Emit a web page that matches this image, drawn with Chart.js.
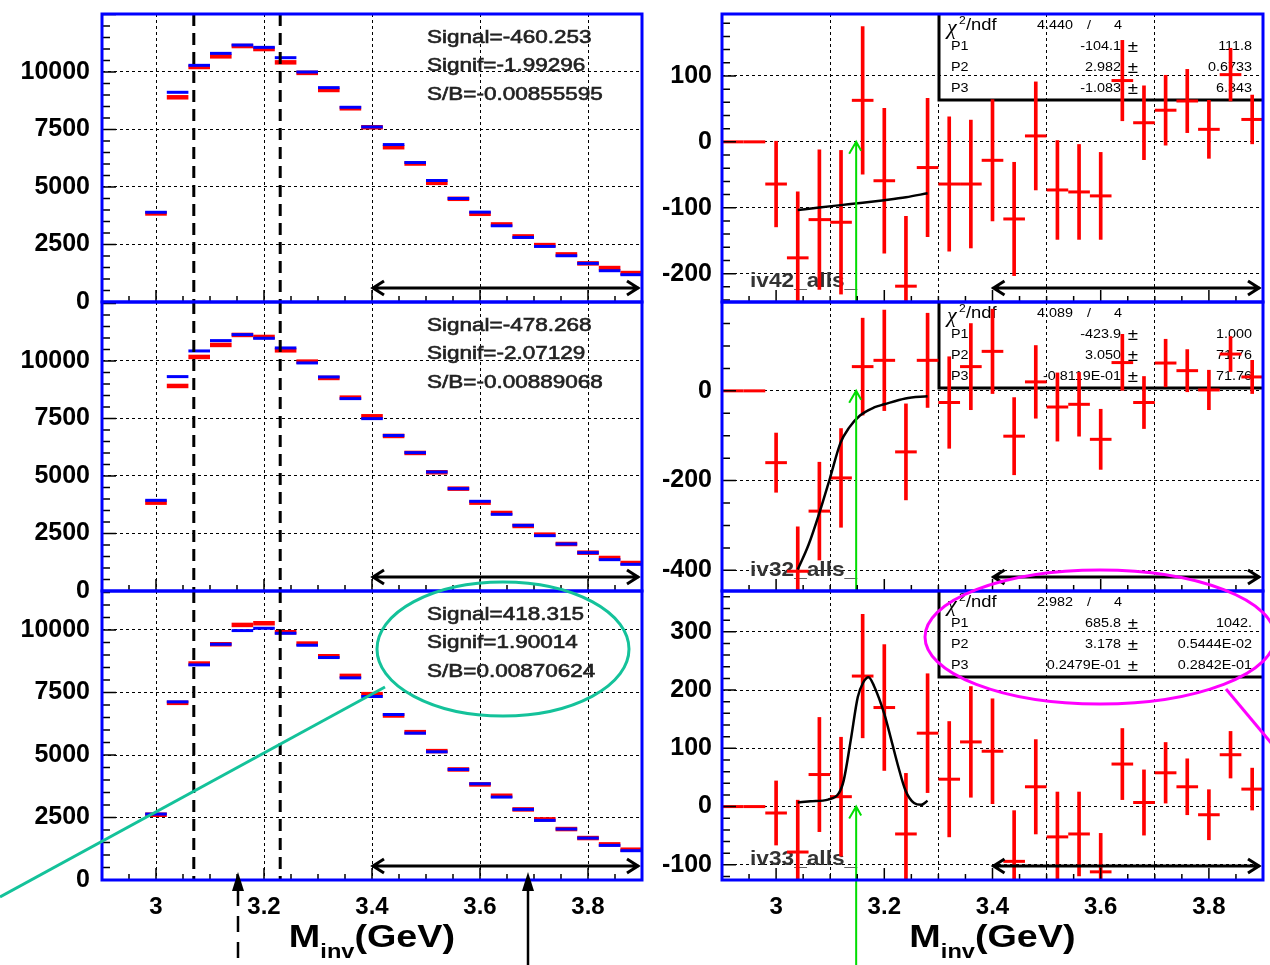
<!DOCTYPE html>
<html lang="en">
<head>
<meta charset="UTF-8">
<title>Minv signal fits</title>
<script src="https://cdn.jsdelivr.net/npm/chart.js"></script>
<style>
  body { margin:0; background:#fff; }
  #wrap { position:relative; width:1270px; height:965px; overflow:hidden; }
  #wrap canvas { position:absolute; }
</style>
</head>
<body>
<div id="wrap">
  <canvas id="histA" width="652" height="316" style="left:0;top:0"></canvas>
  <canvas id="histB" width="652" height="317" style="left:0;top:288px"></canvas>
  <canvas id="histC" width="652" height="405" style="left:0;top:560px"></canvas>
  <canvas id="fitA" width="620" height="316" style="left:650px;top:0"></canvas>
  <canvas id="fitB" width="620" height="317" style="left:650px;top:288px"></canvas>
  <canvas id="fitC" width="620" height="405" style="left:650px;top:560px"></canvas>
</div>

<script>
// bin centres (GeV)
const bins = [3.00, 3.04, 3.08, 3.12, 3.16, 3.20, 3.24, 3.28, 3.32, 3.36, 3.40, 3.44,
              3.48, 3.52, 3.56, 3.60, 3.64, 3.68, 3.72, 3.76, 3.80, 3.84, 3.88];
const fitBins = [2.92, 2.96, 3.00, 3.04, 3.08, 3.12, 3.16, 3.20, 3.24, 3.28, 3.32, 3.36, 3.40,
                 3.44, 3.48, 3.52, 3.56, 3.60, 3.64, 3.68, 3.72, 3.76, 3.80, 3.84, 3.88];
const binWidth = 0.04;
const xTicks = [3.0, 3.2, 3.4, 3.6, 3.8];

// left column: two distributions per panel
const blueA = [3900, 9116, 10288, 10809, 11171, 11070, 10621, 9999, 9319, 8465, 7611, 6844,
               6063, 5282, 4500, 3907, 3314, 2807, 2416, 2011, 1679, 1360, 1187];
const redA  = [3850, 8899, 10216, 10679, 11127, 10997, 10418, 9960, 9217, 8421, 7597, 6729,
               6020, 5180, 4486, 3835, 3372, 2851, 2474, 2069, 1679, 1476, 1259];
const blueB = [3941, 9317, 10433, 10882, 11143, 10983, 10563, 9911, 9303, 8361, 7491, 6760,
               6013, 5173, 4448, 3898, 3333, 2855, 2405, 2043, 1666, 1362, 1159];
const redB  = [3840, 8911, 10172, 10694, 11128, 11041, 10460, 9969, 9259, 8404, 7593, 6738,
               6000, 5160, 4448, 3840, 3391, 2826, 2449, 2043, 1666, 1435, 1217];
const blueC = [2637, 7126, 8605, 9430, 9977, 10070, 9870, 9390, 8898, 8085, 7339, 6620,
               5874, 5128, 4422, 3849, 3317, 2824, 2384, 2038, 1678, 1385, 1172];
const redC  = [2611, 7086, 8658, 9430, 10203, 10270, 9910, 9457, 8951, 8165, 7433, 6580,
               5914, 5155, 4422, 3823, 3370, 2824, 2424, 2038, 1678, 1425, 1212];

const sigTextA = ['Signal=-460.253', 'Signif=-1.99296', 'S/B=-0.00855595'];
const sigTextB = ['Signal=-478.268', 'Signif=-2.07129', 'S/B=-0.00889068'];
const sigTextC = ['Signal=418.315', 'Signif=1.90014', 'S/B=0.00870624'];

// right column: subtracted spectra with errors
const diffA = [0, 0, -64, -176, -118, -122, 63, -59, -219, -39, -64, -64, -28, -117,
               9, -73, -76, -82, 93, 29, 48, 62, 19, 102, 34];
const errA  = [0, 0, 65, 100, 106, 109, 112, 110, 106, 105, 102, 97, 92, 86,
               82, 75, 72, 66, 61, 56, 53, 48, 44, 40, 37];
const diffB = [0, 0, -160, -402, -268, -194, 54, 68, -136, 68, -26, 54, 88, -101,
               20, -36, -30, -108, 63, -26, 62, 45, 2, 82, 31];
const errB  = [0, 0, 66, 99, 109, 110, 108, 112, 107, 105, 102, 96, 94, 86,
               81, 76, 71, 67, 63, 58, 53, 47, 44, 39, 37];
const diffC = [0, 0, -11, -78, 55, 17, 224, 170, -47, 126, 47, 111, 95, -94,
               34, -52, -47, -112, 73, 7, 58, 34, -14, 89, 30];
const errC  = [0, 0, 55, 89, 98, 102, 106, 108, 104, 102, 99, 95, 90, 87,
               81, 77, 72, 66, 61, 56, 52, 48, 43, 40, 36];

// fit curves
const curveAx = [3.04, 3.08, 3.12, 3.16, 3.20, 3.24, 3.28];
const curveAy = [-103.5, -99.5, -96, -92.5, -88.5, -84, -78];
const curveBx = [3.040, 3.060, 3.080, 3.099, 3.119, 3.135, 3.155, 3.181, 3.200, 3.239, 3.280];
const curveBy = [-398, -343, -272, -197, -116, -82, -55, -37, -30, -17, -12];
const curveCx = [3.040, 3.064, 3.096, 3.116, 3.125, 3.138, 3.151, 3.161, 3.171, 3.181,
                 3.200, 3.213, 3.226, 3.239, 3.255, 3.268, 3.280];
const curveCy = [7, 9, 12, 23, 45, 114, 188, 213, 222, 207, 159, 114, 68, 28, 6, 3, 10];

// fit stat boxes
const chiA = ['4.440', '4'], parA = ['-104.1', '2.982', '-1.083'], parErrA = ['111.8', '0.6733', '6.343'];
const chiB = ['4.089', '4'], parB = ['-423.9', '3.050', '-0.8119E-01'], parErrB = ['1.000', '71.76', '71.76'];
const chiC = ['2.982', '4'], parC = ['685.8', '3.178', '0.2479E-01'], parErrC = ['1042.', '0.5444E-02', '0.2842E-01'];

const cutLow = 3.07, cutHigh = 3.23, sideStart = 3.4, markerMass = 3.148;

Chart.defaults.font.family = '"Liberation Sans", Arial, sans-serif';
Chart.defaults.animation = false;

function halfBin(c) {
  const xs = c.chart.scales.x;
  return Math.abs(xs.getPixelForValue(binWidth) - xs.getPixelForValue(0)) / 2;
}

function stretchText(ctx, s, x, y, font, sx, align, stroke) {
  ctx.save();
  ctx.font = font;
  ctx.textAlign = align || 'left';
  ctx.textBaseline = 'middle';
  ctx.translate(x, y);
  ctx.scale(sx, 1);
  ctx.fillText(s, 0, 0);
  if (stroke) { ctx.strokeStyle = ctx.fillStyle; ctx.lineWidth = stroke; ctx.strokeText(s, 0, 0); }
  ctx.restore();
}

function drawStats(ctx, a, st) {
  const L = a.left + 217, T = a.top, B = a.top + 86, R = a.right;
  ctx.strokeStyle = '#000'; ctx.lineWidth = 3; ctx.setLineDash([]);
  ctx.beginPath(); ctx.moveTo(L, T); ctx.lineTo(L, B); ctx.lineTo(R, B); ctx.stroke();
  ctx.fillStyle = '#000';
  const rows = [T + 12, T + 33, T + 54, T + 75];
  const f = '12.5px "Liberation Sans"';
  stretchText(ctx, 'χ', L + 8, rows[0] + 3, 'italic 20px "Liberation Serif"', 1.1);
  stretchText(ctx, '2', L + 20, rows[0] - 5, '11px "Liberation Sans"', 1.1);
  stretchText(ctx, '/ndf', L + 27, rows[0], '16px "Liberation Sans"', 1.15);
  stretchText(ctx, st.chi[0], L + 134, rows[0], f, 1.15, 'right');
  stretchText(ctx, '/', L + 150, rows[0], f, 1.15, 'center');
  stretchText(ctx, st.chi[1], L + 179, rows[0], f, 1.15, 'center');
  for (let i = 0; i < 3; i++) {
    stretchText(ctx, 'P' + (i + 1), L + 12, rows[i + 1], f, 1.15);
    stretchText(ctx, st.par[i], L + 182, rows[i + 1], f, 1.15, 'right');
    stretchText(ctx, '±', L + 194, rows[i + 1], '17px "Liberation Sans"', 1.1, 'center');
    stretchText(ctx, st.err[i], R - 11, rows[i + 1], f, 1.15, 'right');
  }
}

function drawXTitle(ctx, a) {
  const cx = (a.left + a.right) / 2, base = a.bottom + 67, sx = 1.18;
  const big = 'bold 32px "Liberation Sans"', small = 'bold 20px "Liberation Sans"';
  ctx.font = big; const wM = ctx.measureText('M').width, wG = ctx.measureText('(GeV)').width;
  ctx.font = small; const wI = ctx.measureText('inv').width;
  ctx.save();
  ctx.translate(cx - (wM + wI + wG) * sx / 2, base);
  ctx.scale(sx, 1);
  ctx.fillStyle = '#000'; ctx.textAlign = 'left'; ctx.textBaseline = 'alphabetic';
  ctx.font = big; ctx.fillText('M', 0, 0);
  ctx.font = small; ctx.fillText('inv', wM, 11);
  ctx.font = big; ctx.fillText('(GeV)', wM + wI, 0);
  ctx.restore();
}

function upArrow(ctx, x, tip, end, dashed) {
  ctx.fillStyle = '#000'; ctx.strokeStyle = '#000'; ctx.lineWidth = 2.5;
  ctx.beginPath(); ctx.moveTo(x, tip); ctx.lineTo(x - 6, tip + 19); ctx.lineTo(x + 6, tip + 19); ctx.closePath(); ctx.fill();
  ctx.setLineDash(dashed ? [16, 10] : []);
  ctx.beginPath(); ctx.moveTo(x, tip + 18); ctx.lineTo(x, end); ctx.stroke();
  ctx.setLineDash([]);
}

const deco = {
  id: 'deco',
  beforeDatasetsDraw(chart, args, o) {
    const { ctx, chartArea: a } = chart;
    ctx.save();
    if (o.stats) drawStats(ctx, a, o.stats);
    if (o.hname) {
      ctx.fillStyle = '#333';
      stretchText(ctx, o.hname, a.left + 28, a.bottom - 21, 'bold 21px "Liberation Sans"', 1.08);
    }
    ctx.restore();
  },
  afterDatasetsDraw(chart, args, o) {
    const { ctx, chartArea: a, scales: { x, y } } = chart;
    ctx.save();
    // cut lines
    if (o.cuts) {
      ctx.strokeStyle = '#000'; ctx.lineWidth = 3; ctx.setLineDash([12, 7]);
      ctx.beginPath();
      [cutLow, cutHigh].forEach(v => { const px = x.getPixelForValue(v); ctx.moveTo(px, a.top); ctx.lineTo(px, a.bottom); });
      ctx.stroke(); ctx.setLineDash([]);
    }
    if (o.sig) {
      ctx.fillStyle = '#222';
      o.sig.forEach((s, i) => stretchText(ctx, s, a.left + 325, a.top + 24 + i * 28.5, '18px "Liberation Sans"', 1.25, 'left', 0.6));
    }
    // sideband double arrow
    const y0 = a.bottom - 14, x1 = x.getPixelForValue(sideStart), x2 = a.right - 3;
    ctx.strokeStyle = '#000'; ctx.lineWidth = 3; ctx.setLineDash([]);
    ctx.beginPath();
    ctx.moveTo(x1, y0); ctx.lineTo(x2, y0);
    ctx.moveTo(x1 + 12, y0 - 7); ctx.lineTo(x1 + 1, y0); ctx.lineTo(x1 + 12, y0 + 7);
    ctx.moveTo(x2 - 12, y0 - 7); ctx.lineTo(x2 - 1, y0); ctx.lineTo(x2 - 12, y0 + 7);
    ctx.stroke();
    // green marker
    if (o.marker) {
      const px = x.getPixelForValue(markerMass), tip = y.getPixelForValue(0);
      const end = o.bottomRow ? chart.height : a.bottom;
      ctx.strokeStyle = '#00dd00'; ctx.lineWidth = 2;
      ctx.beginPath(); ctx.moveTo(px, end); ctx.lineTo(px, tip);
      ctx.moveTo(px - 7, tip + 12); ctx.lineTo(px, tip); ctx.lineTo(px + 5, tip + 9);
      ctx.stroke();
    }
    // tick marks
    ctx.strokeStyle = '#000'; ctx.lineWidth = 1.5;
    ctx.beginPath();
    for (let k = 58; k <= 78; k++) {
      const px = x.getPixelForValue(k * 0.05);
      const len = k % 4 === 0 ? 12 : 6;
      ctx.moveTo(px, a.bottom); ctx.lineTo(px, a.bottom - len);
    }
    for (let v = Math.ceil(y.min / o.minor) * o.minor; v <= y.max; v += o.minor) {
      const py = y.getPixelForValue(v);
      const len = Math.abs(v % o.major) < 1e-6 ? 14 : 8;
      ctx.moveTo(a.left, py); ctx.lineTo(a.left + len, py);
    }
    ctx.stroke();
    // frame
    ctx.strokeStyle = '#0000ff'; ctx.lineWidth = 3;
    ctx.strokeRect(a.left, a.top, a.right - a.left, a.bottom - a.top);
    if (o.bottomRow) drawXTitle(ctx, a);
    // annotations (page coordinates shifted into this canvas)
    const ox = o.ox || 0, oy = o.oy || 0;
    if (o.teal) {
      ctx.strokeStyle = '#14c29a'; ctx.lineWidth = 3;
      ctx.beginPath(); ctx.ellipse(503 - ox, 649 - oy, 126, 67, 0, 0, Math.PI * 2); ctx.stroke();
      ctx.beginPath(); ctx.moveTo(385 - ox, 687 - oy); ctx.lineTo(0 - ox, 897 - oy); ctx.stroke();
      upArrow(ctx, 238 - ox, 872 - oy, chart.height, true);
      upArrow(ctx, 528 - ox, 872 - oy, chart.height, false);
    }
    if (o.magenta) {
      ctx.strokeStyle = '#ff00ff'; ctx.lineWidth = 3;
      ctx.beginPath(); ctx.ellipse(1100 - ox, 637 - oy, 175, 67, 0, 0, Math.PI * 2); ctx.stroke();
      ctx.beginPath(); ctx.moveTo(1226 - ox, 689 - oy); ctx.lineTo(1272 - ox, 744 - oy); ctx.stroke();
    }
    ctx.restore();
  }
};

function makeScales(yMin, yMax, yTicks, yWidth, bottomRow) {
  return {
    x: {
      type: 'linear', min: 2.9, max: 3.9, offset: false, bounds: 'data',
      afterBuildTicks: s => { s.ticks = xTicks.map(v => ({ value: v })); },
      afterFit: s => { s.height = bottomRow ? 85 : 14; s.paddingLeft = 0; s.paddingRight = 0; },
      grid: { color: '#000', lineWidth: 1, drawTicks: false },
      border: { display: false, dash: [3, 3] },
      ticks: { display: bottomRow, padding: 13, color: '#000', maxRotation: 0, autoSkip: false,
               font: { size: 24, weight: 'bold' }, callback: v => String(Math.round(v * 10) / 10) }
    },
    y: {
      type: 'linear', min: yMin, max: yMax, bounds: 'data',
      afterBuildTicks: s => { s.ticks = yTicks.map(v => ({ value: v })); },
      afterFit: s => { s.width = yWidth; s.paddingTop = 0; s.paddingBottom = 0; },
      grid: { color: '#000', lineWidth: 1, drawTicks: false },
      border: { display: false, dash: [3, 3] },
      ticks: { padding: yWidth > 90 ? 12 : 10, color: '#000', autoSkip: false,
               font: { size: 25, weight: 'bold' }, callback: v => String(v) }
    }
  };
}

function histChart(id, blue, red, sig, yMax, bottomRow, extra) {
  return new Chart(document.getElementById(id), {
    type: 'scatter',
    data: {
      datasets: [
        { data: bins.map((x, i) => ({ x, y: blue[i] })), pointStyle: 'line', pointRadius: halfBin,
          pointBorderWidth: 3, pointBorderColor: '#0000ff', order: 1 },
        { data: bins.map((x, i) => ({ x, y: red[i] })), pointStyle: 'line', pointRadius: halfBin,
          pointBorderWidth: 4.5, pointBorderColor: '#ff0000', order: 2 }
      ]
    },
    options: {
      responsive: false, events: [],
      layout: { padding: { top: bottomRow ? 31 : 14, right: 10, left: 0, bottom: 0 } },
      scales: makeScales(0, yMax, [0, 2500, 5000, 7500, 10000], 102, bottomRow),
      plugins: { legend: { display: false }, tooltip: { enabled: false },
        deco: Object.assign({ cuts: true, sig, minor: 500, major: 2500, bottomRow }, extra) }
    },
    plugins: [deco]
  });
}

function fitChart(id, diff, err, cx, cy, stats, hname, yMin, yMax, yTicks, minor, major, bottomRow, extra) {
  return new Chart(document.getElementById(id), {
    type: 'scatter',
    data: {
      datasets: [
        { type: 'scatter', showLine: true, data: cx.map((x, i) => ({ x, y: cy[i] })),
          borderColor: '#000', borderWidth: 2.5, pointRadius: 0, cubicInterpolationMode: 'monotone', order: 0 },
        { data: fitBins.map((x, i) => ({ x, y: diff[i] })), pointStyle: 'line', pointRadius: halfBin,
          pointBorderWidth: 3, pointBorderColor: '#ff0000', order: 1 },
        { type: 'bar', data: fitBins.map((x, i) => ({ x, y: [diff[i] - err[i], diff[i] + err[i]] })),
          backgroundColor: '#ff0000', borderWidth: 0, barThickness: 3, grouped: false, order: 2 }
      ]
    },
    options: {
      responsive: false, events: [],
      layout: { padding: { top: bottomRow ? 31 : 14, right: 7, left: 0, bottom: 0 } },
      scales: makeScales(yMin, yMax, yTicks, 72, bottomRow),
      plugins: { legend: { display: false }, tooltip: { enabled: false },
        deco: Object.assign({ stats, hname, marker: true, minor, major, bottomRow }, extra) }
    },
    plugins: [deco]
  });
}

histChart('histA', blueA, redA, sigTextA, 12520, false, {});
histChart('histB', blueB, redB, sigTextB, 12560, false, {});
histChart('histC', blueC, redC, sigTextC, 11560, true, { teal: true, ox: 0, oy: 560 });

fitChart('fitA', diffA, errA, curveAx, curveAy, { chi: chiA, par: parA, err: parErrA }, 'iv42_alls_',
         -243, 194, [-200, -100, 0, 100], 20, 100, false, {});
fitChart('fitB', diffB, errB, curveBx, curveBy, { chi: chiB, par: parB, err: parErrB }, 'iv32_alls_',
         -446, 198, [-400, -200, 0], 50, 200, false, {});
fitChart('fitC', diffC, errC, curveCx, curveCy, { chi: chiC, par: parC, err: parErrC }, 'iv33_alls_',
         -126, 370, [-100, 0, 100, 200, 300], 20, 100, true, { magenta: true, ox: 650, oy: 560 });
</script>
</body>
</html>
